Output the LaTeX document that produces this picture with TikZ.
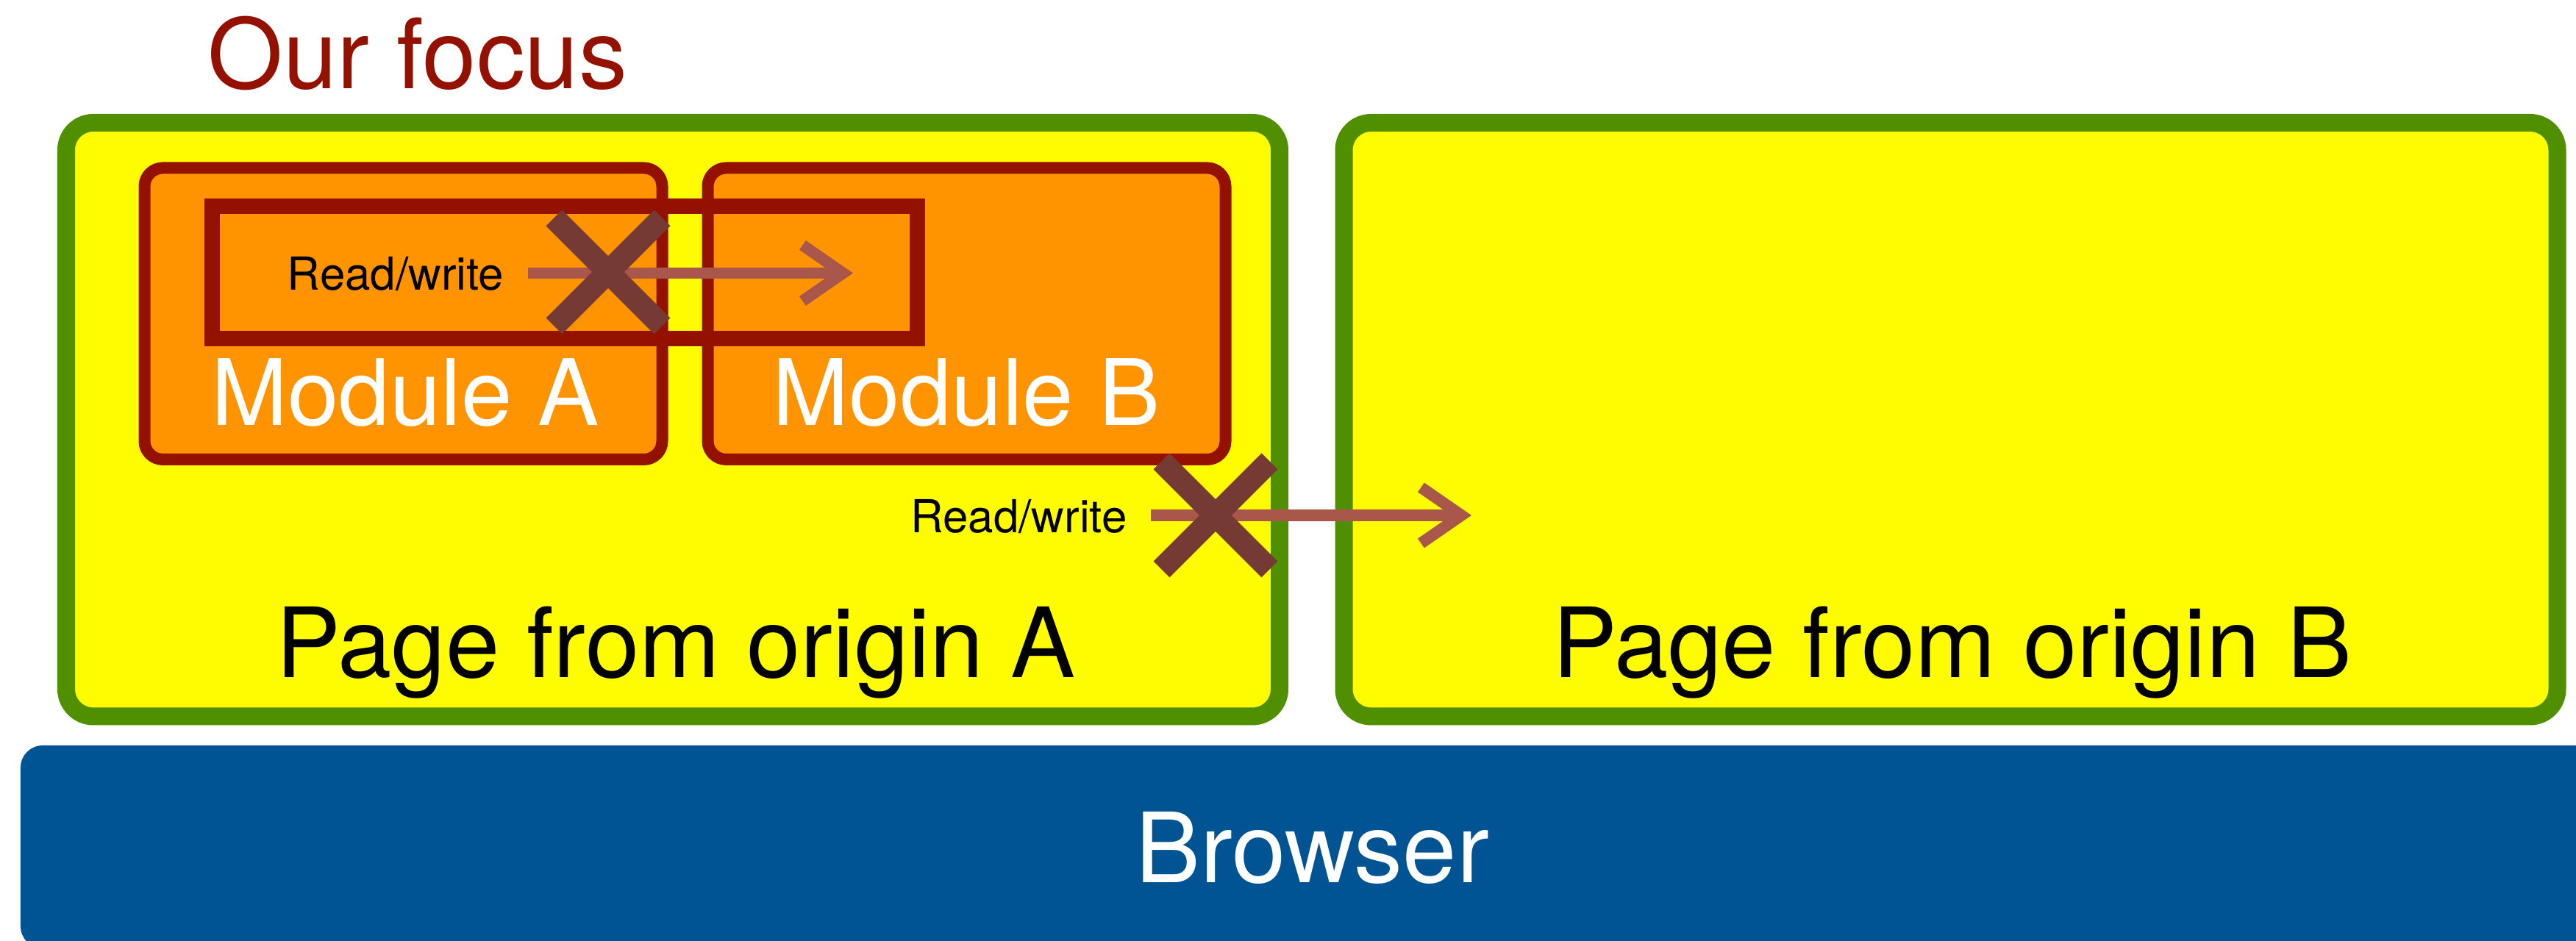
\documentclass[tikz,border=0pt]{standalone}
\usepackage{fontspec}
\setmainfont{TeX Gyre Heros}
\usetikzlibrary{shapes.misc,arrows.meta}
\definecolor{mgreen}{HTML}{4F8F00}
\definecolor{myellow}{HTML}{FFFB00}
\definecolor{morange}{HTML}{FF9300}
\definecolor{mred}{HTML}{941100}
\definecolor{mblue}{HTML}{005493}
\definecolor{marrow}{HTML}{A9574A}
\definecolor{mcross}{HTML}{763A34}
\tikzstyle{pagebox}=[draw=mgreen, fill=myellow, line width=0.24cm, rounded corners=0.37cm, minimum width=16.5cm, minimum height=8.075cm, inner sep=0]
\tikzstyle{modbox}=[draw=mred, fill=morange, line width=0.16cm, rounded corners=0.25cm, minimum width=7.04cm, minimum height=3.965cm, inner sep=0]
\tikzstyle{focusbox}=[draw=mred, line width=0.21cm, minimum width=9.59cm, minimum height=1.795cm, inner sep=0]
\tikzstyle{browserbox}=[fill=mblue, rounded corners=0.3cm, minimum width=35.32cm, minimum height=2.76cm, inner sep=0]
\tikzstyle{bigtext}=[font=\fontsize{37.5}{40}\selectfont, anchor=base, inner sep=0]
\tikzstyle{modtext}=[font=\fontsize{35.5}{38}\selectfont, text=white, anchor=base, inner sep=0]
\tikzstyle{rwtext}=[font=\fontsize{17.6}{20}\selectfont, anchor=base, inner sep=0]
\tikzstyle{rwarrow}=[draw=marrow, line width=0.155cm, -{Straight Barb[length=0.55cm, width=0.76cm]}, shorten <=0.32cm]
\tikzstyle{blocked}=[cross out, draw=mcross, line width=0.31cm, minimum size=1.16cm, inner sep=0]

\begin{document}
\begin{tikzpicture}
    \useasboundingbox (0,0) rectangle (35.03,12.80);
    % browser and the two pages
    \node[browserbox] at (17.94,1.28) (browser) {};
    \node[pagebox] at (9.15,7.0925) (pageA) {};
    \node[pagebox] at (26.525,7.0925) (pageB) {};
    \node[bigtext, text=white] at (17.845,0.793) (browsertxt) {Browser};
    \node[bigtext] at (9.19,3.583) (pageAtxt) {Page from origin A};
    \node[bigtext] at (26.545,3.583) (pageBtxt) {Page from origin B};
    \node[bigtext, text=mred] at (5.68,11.59) (focustxt) {Our focus};

    % modules inside page A
    \node[modbox] at (5.485,8.5325) (modA) {};
    \node[modbox] at (13.145,8.5325) (modB) {};
    \node[focusbox] at (7.675,9.0925) (focus) {};
    \node[modtext] at (5.51,7.01) (modAtxt) {Module A};
    \node[modtext] at (13.145,7.01) (modBtxt) {Module B};

    % blocked accesses
    \node[rwtext] at (5.38,8.85) (rw1) {Read/write};
    \node[rwtext] at (13.855,5.55) (rw2) {Read/write};
    \coordinate (tip1) at (11.60,9.085);
    \coordinate (tip2) at (20.01,5.79);
    \draw[rwarrow] (rw1.east |- tip1) -- (tip1);
    \draw[rwarrow] (rw2.east |- tip2) -- (tip2);
    \node[blocked] at (8.27,9.10) (x1) {};
    \node[blocked] at (16.53,5.79) (x2) {};
\end{tikzpicture}
\end{document}
